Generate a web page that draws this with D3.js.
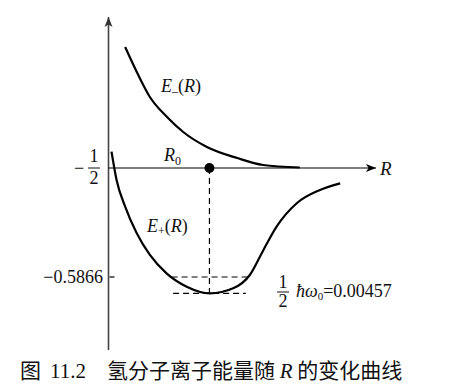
<!DOCTYPE html>
<html>
<head>
<meta charset="utf-8">
<script src="https://cdn.jsdelivr.net/npm/d3@7"></script>
<style>
  body { margin: 0; background: #fff; }
  svg { display: block; }
</style>
</head>
<body>
<div id="chart"></div>
<script>
// curve data, R in bohr, E in hartree
var eMinusR = [0.33, 0.57, 0.82, 1.16, 1.48, 1.95, 2.55, 3.06, 3.79];
var eMinusE = [-0.4039, -0.4245, -0.4436, -0.4595, -0.4714, -0.4833, -0.4921, -0.4976, -0.4996];

var ePlusR = [0.06, 0.16, 0.33, 0.56, 0.82, 1.15, 1.55, 2.01, 2.47, 2.80, 3.07, 3.33, 3.73, 4.19, 4.59];
var ePlusE = [-0.4870, -0.5095, -0.5307, -0.5519, -0.5691, -0.5837, -0.5943, -0.5996, -0.5956, -0.5850, -0.5651, -0.5466, -0.5280, -0.5175, -0.5122];

var r0 = 2.0;
var eHalf = -0.5;
var eLevel = -0.5866;
var eMin = -0.5996;
var levelSpan = [1.25, 2.75];
var minSpan = [1.28, 2.72];
var rAxisEnd = 5.3;
var eAxis = [-0.6446, -0.380];

var width = 450, height = 391;
var serif = '"Liberation Serif", "Times New Roman", Tinos, "DejaVu Serif", serif';
var cjk = '"Noto Sans CJK SC", sans-serif';

var svg = d3.select('#chart').append('svg')
  .attr('width', width)
  .attr('height', height);

var x = d3.scaleLinear().domain([0, rAxisEnd]).range([108.5, 376]);
var y = d3.scaleLinear().domain([eHalf, eLevel]).range([168, 277]);

var defs = svg.append('defs');
function addArrow(id, color) {
  defs.append('marker')
    .attr('id', id)
    .attr('viewBox', '0 0 10 10')
    .attr('refX', 10).attr('refY', 5)
    .attr('markerWidth', 10).attr('markerHeight', 10)
    .attr('markerUnits', 'userSpaceOnUse')
    .attr('orient', 'auto')
    .append('path')
    .attr('d', 'M0,1 L10,5 L0,9 L2.5,5 Z')
    .attr('fill', color);
}
addArrow('arrowY', '#333');
addArrow('arrowX', '#000');

// axes
svg.append('line')
  .attr('x1', x(0)).attr('y1', y(eAxis[0]))
  .attr('x2', x(0)).attr('y2', y(eAxis[1]))
  .attr('stroke', '#444')
  .attr('stroke-width', 1.6)
  .attr('marker-end', 'url(#arrowY)');

svg.append('line')
  .attr('x1', x(0)).attr('y1', y(eHalf))
  .attr('x2', x(rAxisEnd)).attr('y2', y(eHalf))
  .attr('stroke', '#000')
  .attr('stroke-width', 1.2)
  .attr('marker-end', 'url(#arrowX)');

svg.append('line')
  .attr('x1', x(0) + 1).attr('y1', y(eLevel))
  .attr('x2', x(0) + 6).attr('y2', y(eLevel))
  .attr('stroke', '#000')
  .attr('stroke-width', 1.2);

// curves
var line = d3.line()
  .x(function(d) { return x(d[0]); })
  .y(function(d) { return y(d[1]); })
  .curve(d3.curveMonotoneX);

svg.append('path')
  .datum(d3.zip(eMinusR, eMinusE))
  .attr('d', line)
  .attr('fill', 'none')
  .attr('stroke', '#000')
  .attr('stroke-width', 2.2);

svg.append('path')
  .datum(d3.zip(ePlusR, ePlusE))
  .attr('d', line)
  .attr('fill', 'none')
  .attr('stroke', '#000')
  .attr('stroke-width', 2.2);

// dashed guides
var dash = '6,4';
svg.append('line')
  .attr('x1', x(r0)).attr('y1', y(eHalf))
  .attr('x2', x(r0)).attr('y2', y(eMin))
  .attr('stroke', '#000').attr('stroke-width', 1.2)
  .attr('stroke-dasharray', dash);
svg.append('line')
  .attr('x1', x(levelSpan[0])).attr('y1', y(eLevel))
  .attr('x2', x(levelSpan[1])).attr('y2', y(eLevel))
  .attr('stroke', '#000').attr('stroke-width', 1.2)
  .attr('stroke-dasharray', dash);
svg.append('line')
  .attr('x1', x(minSpan[0])).attr('y1', y(eMin))
  .attr('x2', x(minSpan[1])).attr('y2', y(eMin))
  .attr('stroke', '#000').attr('stroke-width', 1.2)
  .attr('stroke-dasharray', dash);

svg.append('circle')
  .attr('cx', x(r0)).attr('cy', y(eHalf))
  .attr('r', 5)
  .attr('fill', '#000');

// labels
var g = svg.append('g').attr('font-family', serif).attr('fill', '#111');

var em = g.append('text').attr('x', 161).attr('y', 92).attr('font-size', 18);
em.append('tspan').attr('font-style', 'italic').text('E');
em.append('tspan').attr('font-size', 12).attr('dy', 3).text('\u2013');
em.append('tspan').attr('dy', -3).text('(');
em.append('tspan').attr('font-style', 'italic').text('R');
em.append('tspan').text(')');

var ep = g.append('text').attr('x', 147).attr('y', 232).attr('font-size', 18);
ep.append('tspan').attr('font-style', 'italic').text('E');
ep.append('tspan').attr('font-size', 12).attr('dy', 3).text('+');
ep.append('tspan').attr('dy', -3).text('(');
ep.append('tspan').attr('font-style', 'italic').text('R');
ep.append('tspan').text(')');

var r0t = g.append('text').attr('x', 164).attr('y', 161).attr('font-size', 18);
r0t.append('tspan').attr('font-style', 'italic').text('R');
r0t.append('tspan').attr('font-size', 12).attr('dy', 4).text('0');

g.append('text')
  .attr('x', 380).attr('y', 175)
  .attr('font-size', 19)
  .attr('font-style', 'italic')
  .text('R');

// -1/2 fraction
g.append('text').attr('x', 74).attr('y', 174).attr('font-size', 18).text('\u2212');
g.append('text').attr('x', 94).attr('y', 162).attr('font-size', 18).attr('text-anchor', 'middle').text('1');
g.append('line').attr('x1', 88).attr('x2', 100).attr('y1', 168).attr('y2', 168)
  .attr('stroke', '#111').attr('stroke-width', 1);
g.append('text').attr('x', 94).attr('y', 184).attr('font-size', 18).attr('text-anchor', 'middle').text('2');

g.append('text')
  .attr('x', 103).attr('y', 283)
  .attr('font-size', 18)
  .attr('text-anchor', 'end')
  .text('\u22120.5866');

// 1/2 hbar omega label
g.append('text').attr('x', 283).attr('y', 288).attr('font-size', 18).attr('text-anchor', 'middle').text('1');
g.append('line').attr('x1', 277).attr('x2', 289).attr('y1', 292).attr('y2', 292)
  .attr('stroke', '#111').attr('stroke-width', 1);
g.append('text').attr('x', 283).attr('y', 307).attr('font-size', 18).attr('text-anchor', 'middle').text('2');

var hw = g.append('text').attr('x', 296).attr('y', 297).attr('font-size', 18);
hw.append('tspan').attr('font-style', 'italic').text('\u0127\u03c9');
hw.append('tspan').attr('font-size', 11).attr('dy', 3).text('0');
hw.append('tspan').attr('dy', -3).text('=0.00457');

// caption
var cap = svg.append('g').attr('fill', '#111');
cap.append('text')
  .attr('x', 20).attr('y', 378)
  .attr('font-family', cjk)
  .attr('font-size', 21)
  .text('图');
cap.append('text')
  .attr('x', 50).attr('y', 378)
  .attr('font-family', serif)
  .attr('font-size', 21)
  .text('11.2');
var ct = cap.append('text')
  .attr('x', 107).attr('y', 378)
  .attr('font-family', cjk)
  .attr('font-size', 21);
ct.append('tspan').text('氢分子离子能量随 ');
ct.append('tspan').attr('font-family', serif).attr('font-style', 'italic').text('R');
ct.append('tspan').text(' 的变化曲线');
</script>
</body>
</html>
